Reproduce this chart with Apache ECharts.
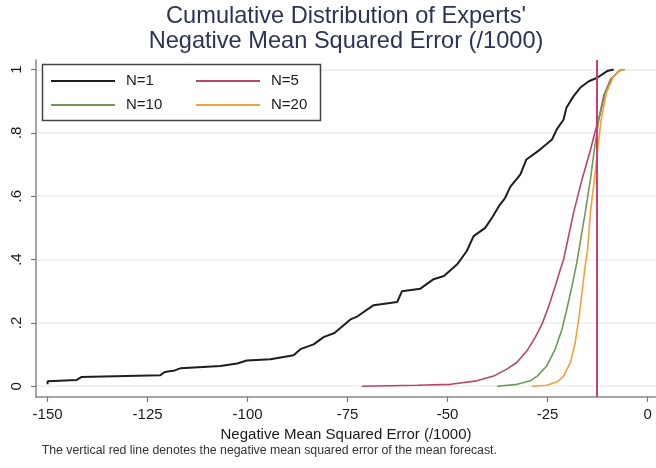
<!DOCTYPE html>
<html>
<head>
<meta charset="utf-8">
<script src="https://cdn.jsdelivr.net/npm/echarts@6/dist/echarts.min.js"></script>
<style>
  html, body { margin: 0; padding: 0; background: #fff; }
  #chart { width: 656px; height: 468px; }
</style>
</head>
<body>
<div id="chart"></div>
<script>
// values: x = negative MSE (/1000), y = cumulative share
const n1X = [-150, -150, -142.7, -141.6, -121.8, -120.7, -118.2, -116.7, -106.8, -102.6, -100.2, -94.3, -88.5, -86.8, -83.5, -81,
  -78.3, -76.2, -74.3, -72.6, -68.5, -62.6, -61.4, -56.8, -53.5, -50.9, -47.6, -45.2, -43.5, -40.6, -38.9, -37, -35.6, -34.3,
  -32.7, -31.8, -30.3, -26.8, -23.9, -22.7, -21, -20.3, -18.5, -16.8, -14.7, -12.6, -10.1, -8.5];
const n1Y = [0.006, 0.016, 0.02, 0.029, 0.035, 0.045, 0.05, 0.057, 0.064, 0.072, 0.081, 0.085, 0.098, 0.117, 0.132, 0.155,
  0.168, 0.19, 0.211, 0.22, 0.256, 0.266, 0.3, 0.308, 0.338, 0.348, 0.385, 0.427, 0.474, 0.5, 0.532, 0.572, 0.595, 0.63,
  0.655, 0.669, 0.716, 0.748, 0.779, 0.811, 0.842, 0.879, 0.916, 0.943, 0.963, 0.974, 0.995, 1];

const n5X = [-71.4, -57.6, -49.3, -42.7, -38.5, -35.2, -32.7, -30.2, -28.1, -26.4, -24.7, -23.1, -21.8, -21, -18.5, -16.4,
  -14.3, -13.2, -12, -11, -9.3, -7.2, -6];
const n5Y = [0, 0.003, 0.006, 0.017, 0.032, 0.054, 0.075, 0.111, 0.154, 0.196, 0.253, 0.316, 0.369, 0.4, 0.548, 0.653,
  0.745, 0.8, 0.855, 0.916, 0.968, 0.995, 1];

const n10X = [-37.6, -32.6, -29.3, -27.6, -25.2, -23.1, -21.4, -20.2, -18.9, -17.7, -15.6, -14.3, -13.3, -12.2, -10.6, -8.9, -6.8, -5.8];
const n10Y = [0, 0.006, 0.017, 0.032, 0.064, 0.117, 0.18, 0.243, 0.316, 0.39, 0.548, 0.653, 0.748, 0.842, 0.926, 0.974, 0.998, 1];

const n20X = [-28.9, -25.2, -22.6, -21, -19.3, -18.1, -17.1, -16.4, -15.6, -15, -14.3, -13.3, -12.4, -11.6, -10.3, -8.5, -6.8, -5.6];
const n20Y = [0, 0.003, 0.014, 0.032, 0.075, 0.138, 0.222, 0.296, 0.38, 0.432, 0.548, 0.653, 0.758, 0.842, 0.926, 0.979, 0.997, 1];

const meanForecast = -12.8;

const xTicks = [-150, -125, -100, -75, -50, -25, 0];
const yTicks = [0, 0.2, 0.4, 0.6, 0.8, 1];
const yTickLabels = ["0", ".2", ".4", ".6", ".8", "1"];

const FONT = "'Liberation Sans', Arial, Helvetica, sans-serif";

function pairs(xs, ys) {
  return xs.map((x, i) => [x, ys[i]]);
}

function curve(name, xs, ys, color, width) {
  return {
    name: name,
    type: "line",
    data: pairs(xs, ys),
    symbol: "none",
    color: color,
    lineStyle: { color: color, width: width },
    z: 3
  };
}

const legendBase = {
  orient: "vertical",
  top: 73.5,
  padding: 0,
  itemWidth: 64,
  itemHeight: 14,
  itemGap: 9,
  z: 8,
  selectedMode: false,
  itemStyle: { opacity: 0 },
  lineStyle: { width: 2 },
  textStyle: { fontFamily: FONT, fontSize: 15, color: "#1a1a1a", padding: [0, 0, 0, 6] }
};

let myChart = echarts.init(document.getElementById("chart"));
myChart.setOption({
  animation: false,
  backgroundColor: "#fff",
  grid: { left: 36, right: 0, top: 60, bottom: 71 },
  legend: [
    Object.assign({}, legendBase, { left: 50, data: ["N=1", "N=10"] }),
    Object.assign({}, legendBase, { left: 195, data: ["N=5", "N=20"] })
  ],
  graphic: [
    {
      type: "text", x: 346, y: 16.7, z: 10,
      style: { text: "Cumulative Distribution of Experts'", font: "23.6px " + FONT, fill: "#2c3356", textAlign: "center", textVerticalAlign: "middle" }
    },
    {
      type: "text", x: 346, y: 41.3, z: 10,
      style: { text: "Negative Mean Squared Error (/1000)", font: "23.6px " + FONT, fill: "#2c3356", textAlign: "center", textVerticalAlign: "middle" }
    },
    {
      type: "text", x: 41.7, y: 451, z: 10,
      style: { text: "The vertical red line denotes the negative mean squared error of the mean forecast.", font: "12.3px " + FONT, fill: "#333", textAlign: "left", textVerticalAlign: "middle" }
    },
    {
      type: "rect", z: 7,
      shape: { x: 42.5, y: 64.5, width: 278, height: 56 },
      style: { fill: "#fff", stroke: "#444", lineWidth: 1.5 }
    }
  ],
  xAxis: {
    type: "value",
    min: -152.9,
    max: 2.1,
    name: "Negative Mean Squared Error (/1000)",
    nameLocation: "middle",
    nameGap: 30,
    nameTextStyle: { fontFamily: FONT, fontSize: 15, color: "#1a1a1a" },
    axisLine: { show: true, onZero: false, lineStyle: { color: "#888", width: 1.5 } },
    axisTick: { show: true, length: 5, lineStyle: { color: "#777", width: 1.2 }, customValues: xTicks },
    axisLabel: { customValues: xTicks, margin: 10, fontFamily: FONT, fontSize: 15, color: "#1a1a1a" },
    splitLine: { show: false }
  },
  yAxis: {
    type: "value",
    min: -0.034,
    max: 1.03,
    axisLine: { show: true, onZero: false, lineStyle: { color: "#888", width: 1.5 } },
    axisTick: { show: true, length: 5, lineStyle: { color: "#777", width: 1.2 }, customValues: yTicks },
    axisLabel: {
      customValues: yTicks,
      rotate: 90,
      margin: 12,
      fontFamily: FONT,
      fontSize: 15,
      color: "#1a1a1a",
      formatter: function (v) {
        let i = yTicks.findIndex(t => Math.abs(t - v) < 1e-9);
        return i >= 0 ? yTickLabels[i] : "";
      }
    },
    splitLine: { show: true, lineStyle: { color: "#ececec", width: 1.5 } }
  },
  series: [
    curve("N=1", n1X, n1Y, "#1e1e1e", 2),
    curve("N=5", n5X, n5Y, "#b5476b", 1.6),
    curve("N=10", n10X, n10Y, "#6f9a55", 1.6),
    curve("N=20", n20X, n20Y, "#f2a23a", 1.6),
    {
      name: "mean forecast",
      type: "line",
      data: [],
      markLine: {
        silent: true,
        symbol: ["none", "none"],
        label: { show: false },
        lineStyle: { color: "#d03c74", width: 2, type: "solid" },
        data: [{ xAxis: meanForecast }]
      },
      z: 4
    }
  ]
});
</script>
</body>
</html>
